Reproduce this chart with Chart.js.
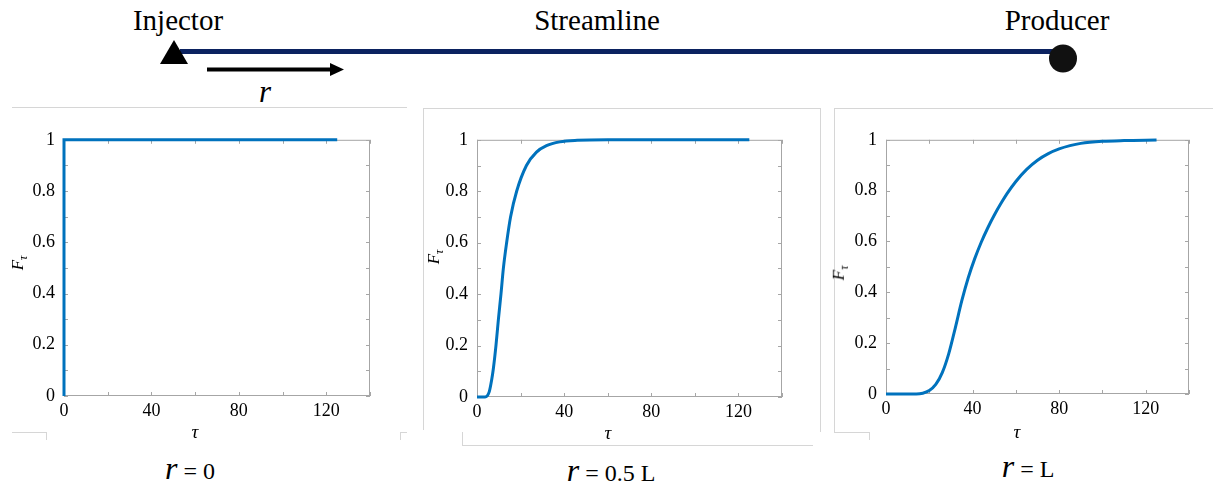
<!DOCTYPE html>
<html>
<head>
<meta charset="utf-8">
<script src="https://cdn.jsdelivr.net/npm/chart.js@4/dist/chart.umd.min.js"></script>
<style>
  body { margin: 0; background: #fff; width: 1213px; height: 491px; overflow: hidden; position: relative; font-family: "Liberation Serif", "Times New Roman", serif; color: #000; }
  .abs { position: absolute; }
  .hl { position: absolute; height: 1px; background: #d6d6d6; }
  .vl { position: absolute; width: 1px; background: #d6d6d6; }
  .lbl { position: absolute; font-size: 29px; transform: translate(-50%, -50%); white-space: nowrap; line-height: 1; }
  .ylab { position: absolute; font-size: 17px; font-style: italic; transform: translate(-50%, -50%) rotate(-90deg); white-space: nowrap; line-height: 1; }
  .ylab sub { font-size: 12px; }
  .xlab { position: absolute; font-size: 19px; font-style: italic; transform: translate(-50%, -50%); line-height: 1; }
  .cap { position: absolute; transform: translate(-50%, -50%); white-space: nowrap; font-size: 24px; line-height: 1; }
  .cap i { font-size: 32px; }
  .chart { position: absolute; }
</style>
</head>
<body>

<!-- schematic of the streamline -->
<svg class="abs" style="left:0;top:0" width="1213" height="110">
  <line x1="180" y1="51.5" x2="1060" y2="51.5" stroke="#0b2260" stroke-width="5"/>
  <polygon points="160,64 188,64 174,40" fill="#000"/>
  <circle cx="1063" cy="58.5" r="14" fill="#111"/>
  <line x1="207" y1="69.5" x2="332" y2="69.5" stroke="#000" stroke-width="4"/>
  <polygon points="330,63 344,69.5 330,76" fill="#000"/>
</svg>
<div class="lbl" style="left:178px;top:20px">Injector</div>
<div class="lbl" style="left:597px;top:20px">Streamline</div>
<div class="lbl" style="left:1057px;top:20px">Producer</div>
<div class="lbl" style="left:265px;top:91px;font-style:italic;font-size:31px">r</div>

<!-- panel frames -->
<div class="hl" style="left:12px;top:107px;width:395px"></div>
<div class="hl" style="left:12px;top:432px;width:34px"></div>
<div class="vl" style="left:46px;top:432px;height:8px"></div>
<div class="hl" style="left:400px;top:432px;width:7px"></div>
<div class="vl" style="left:400px;top:432px;height:8px"></div>

<div class="hl" style="left:423px;top:108px;width:397px"></div>
<div class="vl" style="left:423px;top:108px;height:322px"></div>
<div class="vl" style="left:820px;top:108px;height:324px"></div>
<div class="hl" style="left:462px;top:445px;width:351px"></div>
<div class="vl" style="left:462px;top:432px;height:13px"></div>

<div class="hl" style="left:834px;top:108px;width:379px"></div>
<div class="vl" style="left:834px;top:108px;height:324px"></div>
<div class="hl" style="left:834px;top:432px;width:35px"></div>
<div class="vl" style="left:869px;top:432px;height:8px"></div>

<div class="chart" id="w1"><canvas id="c1"></canvas></div>
<div class="chart" id="w2"><canvas id="c2"></canvas></div>
<div class="chart" id="w3"><canvas id="c3"></canvas></div>

<div class="ylab" style="left:19px;top:263px"><i>F</i><sub>τ</sub></div>
<div class="ylab" style="left:435px;top:257px"><i>F</i><sub>τ</sub></div>
<div class="ylab" style="left:840px;top:273px"><i>F</i><sub>τ</sub></div>
<div class="xlab" style="left:195px;top:431px">τ</div>
<div class="xlab" style="left:608px;top:432px">τ</div>
<div class="xlab" style="left:1017px;top:431px">τ</div>

<div class="cap" style="left:190px;top:468px"><i>r</i> = 0</div>
<div class="cap" style="left:611px;top:470px"><i>r</i> = 0.5 L</div>
<div class="cap" style="left:1028px;top:466px"><i>r</i> = L</div>

<script>
// r = 0 : step at the injector
const tau1 = [0, 0, 125];
const F1 = [0, 1, 1];

// r = 0.5 L
const tau2 = [0, 3.7, 5.6, 6.7, 7.5, 8.7, 9.8, 11, 12.1, 13.6, 15.4, 18.2, 22.7, 27.3, 31.9, 38, 46, 60, 125];
const F2 = [0, 0, 0.02, 0.065, 0.11, 0.2, 0.3, 0.4, 0.5, 0.6, 0.7, 0.8, 0.9, 0.952, 0.977, 0.992, 0.998, 1, 1];

// r = L
const tau3 = [0, 14, 17, 20, 23, 26, 29, 32, 35, 38, 41, 44, 47, 50, 53, 56, 60, 65, 70, 75, 80, 85, 90, 100, 110, 125];
const F3 = [0, 0, 0.003, 0.0135, 0.0375, 0.084, 0.159, 0.2595, 0.366, 0.4575, 0.5325, 0.597, 0.653, 0.703, 0.748, 0.789, 0.836, 0.8835, 0.9195, 0.9455, 0.964, 0.977, 0.986, 0.994, 0.997, 0.999];

// axis ticks
const xLabelTicks = [0, 40, 80, 120];
const xTickMarks = [0, 20, 40, 60, 80, 100, 120, 140];
const yTickMarks = [0, 0.1, 0.2, 0.3, 0.4, 0.5, 0.6, 0.7, 0.8, 0.9, 1];

// matlab style box with inward ticks
const boxPlugin = {
  id: "box",
  beforeDatasetsDraw(chart) {
    const { ctx, chartArea: a, scales: { x, y } } = chart;
    ctx.save();
    ctx.strokeStyle = "#a6a6a6";
    ctx.lineWidth = 1;
    ctx.strokeRect(a.left + 0.5, a.top + 0.5, a.right - a.left - 1, a.bottom - a.top - 1);
    ctx.beginPath();
    xTickMarks.forEach(t => {
      const px = Math.round(x.getPixelForValue(t)) + 0.5;
      ctx.moveTo(px, a.bottom); ctx.lineTo(px, a.bottom - 4);
      ctx.moveTo(px, a.top); ctx.lineTo(px, a.top + 4);
    });
    yTickMarks.forEach(v => {
      const py = Math.round(y.getPixelForValue(v)) + 0.5;
      ctx.moveTo(a.left, py); ctx.lineTo(a.left + 4, py);
      ctx.moveTo(a.right, py); ctx.lineTo(a.right - 4, py);
    });
    ctx.stroke();
    ctx.restore();
  }
};

const tickFont = { family: "'Liberation Serif', 'Times New Roman', serif", size: 18 };

function makeChart(n, tau, F, area, smooth) {
  const padL = 60, padT = 12, padR = 12, padB = 47;
  const w = area.r - area.l + padL + padR;
  const h = area.b - area.t + padT + padB;
  const wrap = document.getElementById("w" + n);
  wrap.style.left = (area.l - padL) + "px";
  wrap.style.top = (area.t - padT) + "px";
  const cv = document.getElementById("c" + n);
  cv.width = w; cv.height = h;
  new Chart(cv, {
    type: "line",
    data: {
      datasets: [{
        data: tau.map((t, i) => ({ x: t, y: F[i] })),
        borderColor: "#0072BD",
        borderWidth: 3,
        pointRadius: 0,
        fill: false,
        cubicInterpolationMode: smooth ? "monotone" : "default",
        tension: 0,
        clip: 4
      }]
    },
    options: {
      responsive: false,
      animation: false,
      devicePixelRatio: 1,
      layout: { padding: { top: padT, right: padR, left: 0, bottom: 0 } },
      plugins: { legend: { display: false }, tooltip: { enabled: false } },
      scales: {
        x: {
          type: "linear", min: 0, max: 140,
          grid: { display: false, drawTicks: false },
          border: { display: false },
          ticks: {
            stepSize: 20, padding: 4, font: tickFont, color: "#000", maxRotation: 0,
            callback: v => xLabelTicks.includes(v) ? String(v) : ""
          },
          afterFit: s => { s.height = padB; }
        },
        y: {
          type: "linear", min: 0, max: 1,
          grid: { display: false, drawTicks: false },
          border: { display: false },
          ticks: {
            stepSize: 0.2, padding: 9, font: tickFont, color: "#000",
            callback: v => String(Math.round(v * 10) / 10)
          },
          afterFit: s => { s.width = padL; }
        }
      }
    },
    plugins: [boxPlugin]
  });
}

function drawAll() {
  makeChart(1, tau1, F1, { l: 64, t: 132, r: 370, b: 396 }, false);
  makeChart(2, tau2, F2, { l: 477, t: 132, r: 782, b: 397 }, true);
  makeChart(3, tau3, F3, { l: 886, t: 132, r: 1189, b: 394 }, true);
}

if (document.fonts && document.fonts.load) {
  Promise.all([
    document.fonts.load("18px 'Liberation Serif'"),
    document.fonts.load("italic 18px 'Liberation Serif'")
  ]).then(drawAll, drawAll);
} else {
  drawAll();
}
</script>
</body>
</html>
